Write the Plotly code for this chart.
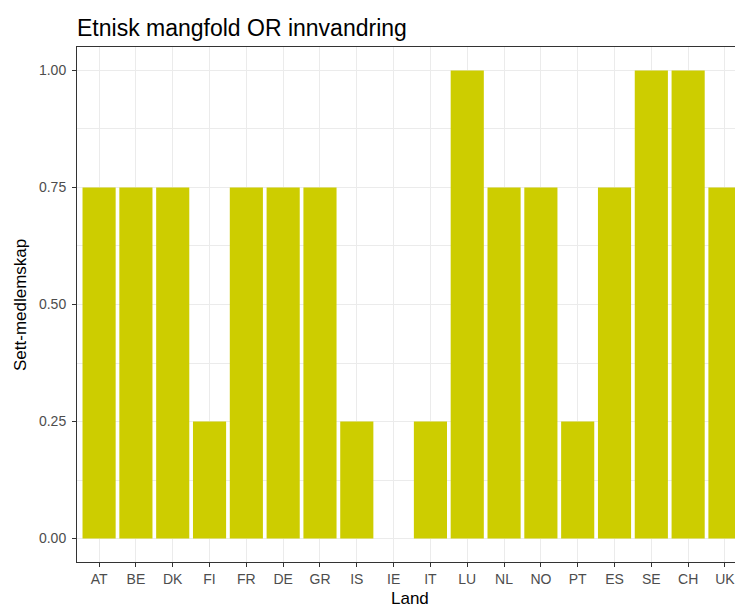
import plotly.graph_objects as go

# data
land = ["AT", "BE", "DK", "FI", "FR", "DE", "GR", "IS", "IE",
        "IT", "LU", "NL", "NO", "PT", "ES", "SE", "CH", "UK"]
medlemskap = [0.75, 0.75, 0.75, 0.25, 0.75, 0.75, 0.75, 0.25, 0.0,
              0.25, 1.0, 0.75, 0.75, 0.25, 0.75, 1.0, 1.0, 0.75]
yticks = [0.0, 0.25, 0.5, 0.75, 1.0]
yticklabels = ["0.00", "0.25", "0.50", "0.75", "1.00"]

# the page body has an 8px margin, so the figure is shifted by 8px
W, H = 735, 600
L, T, B = 69, 39, 46
plot_w = W - L
plot_h = H - T - B

fig = go.Figure(go.Bar(x=land, y=medlemskap, marker_color="#CDCD00",
                       marker_line_width=0))

fig.update_layout(
    width=W, height=H,
    margin=dict(l=L, r=0, t=T, b=B),
    plot_bgcolor="white", paper_bgcolor="white",
    bargap=0.1, showlegend=False,
    font=dict(family="Liberation Sans, Arial", color="#4D4D4D"),
    title=dict(text="Etnisk mangfold OR innvandring", x=0, xref="paper",
               xanchor="left", y=1 - 20 / H, yref="container",
               yanchor="middle", font=dict(size=23, color="black")),
)

fig.update_xaxes(
    range=[-0.6, 17.49], showgrid=True, gridcolor="#EBEBEB", gridwidth=1,
    showline=True, linecolor="#333333", linewidth=1, mirror=True,
    ticks="outside", ticklen=4, tickcolor="#333333",
    tickfont=dict(size=14, color="#4D4D4D"), zeroline=False,
)
fig.update_yaxes(
    range=[-0.05, 1.05], tickvals=yticks, ticktext=yticklabels,
    showgrid=True, gridcolor="#EBEBEB", gridwidth=1,
    minor=dict(dtick=0.125, tick0=0.125, showgrid=True, gridcolor="#EBEBEB",
               gridwidth=0.6, ticks=""),
    showline=True, linecolor="#333333", linewidth=1, mirror=False,
    ticks="outside", ticklen=4, tickcolor="#333333", ticklabelstandoff=3,
    tickfont=dict(size=14, color="#4D4D4D"), zeroline=False,
)

fig.add_annotation(text="Land", x=0.5, xref="paper", y=-36 / plot_h,
                   yref="paper", xanchor="center", yanchor="middle",
                   showarrow=False, font=dict(size=17, color="black"))
fig.add_annotation(text="Sett-medlemskap", textangle=-90,
                   x=(12 - L) / plot_w, y=1 - (297 - T) / plot_h,
                   xref="paper", yref="paper", xanchor="center",
                   yanchor="middle", showarrow=False,
                   font=dict(size=17, color="black"))

fig.write_html("out.html")
